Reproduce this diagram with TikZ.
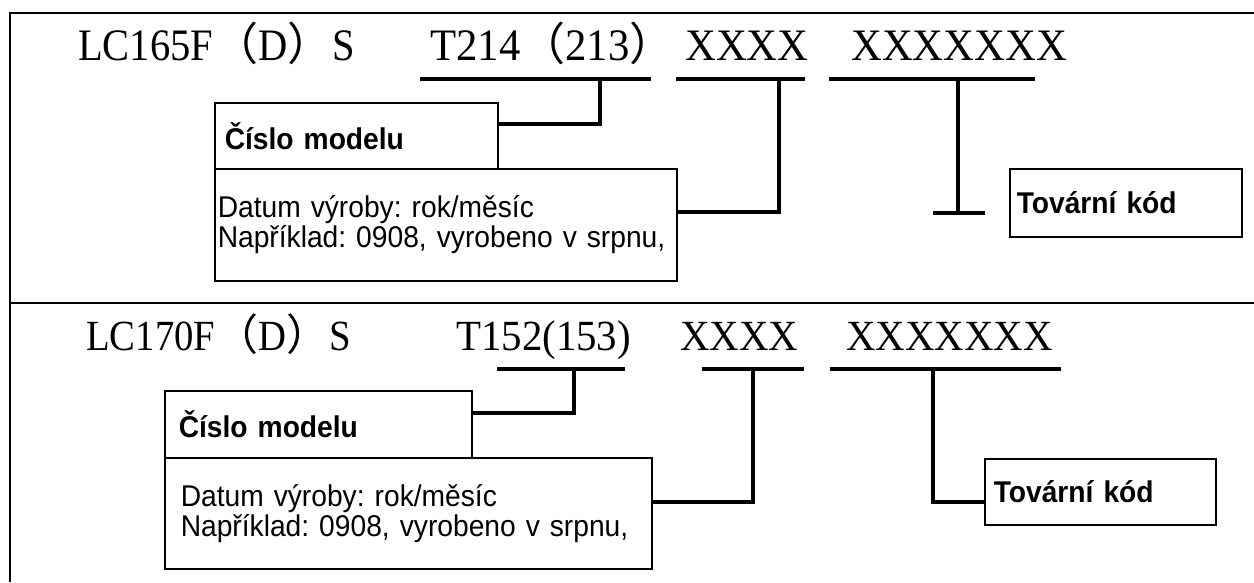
\documentclass[tikz,border=0pt]{standalone}
\usepackage{fontspec}
\setmainfont[FakeStretch=0.94]{Liberation Sans}
\newfontfamily\titlefont[FakeStretch=0.9]{Liberation Serif}
\newfontfamily\xfont[FakeStretch=0.95]{Liberation Serif}
\newfontfamily\cjk{Noto Sans CJK SC}
\newcommand{\fwlp}{{\cjk （}}
\newcommand{\fwrp}{{\cjk ）}}
\frenchspacing

\begin{document}
\begin{tikzpicture}[x=1pt,y=-1pt,
	frame/.style={line width=2pt},
	uline/.style={line width=4.5pt},
	conn/.style={line width=3.5pt},
	code/.style={anchor=base west,inner sep=0pt,font=\fontsize{45}{45}\selectfont},
	codelow/.style={code,font=\fontsize{43}{43}\selectfont},
	lbox/.style={draw,line width=1.5pt,anchor=north west,align=left,inner ysep=0pt},
	boldlbl/.style={font=\bfseries\fontsize{30}{30}\selectfont},
	plainlbl/.style={font=\fontsize{30}{30}\selectfont}]
	\useasboundingbox (0,0) rectangle (1254,582);
	\draw[frame] (1254,13) -- (10,13) -- (10,582);
	\draw[frame] (10,303) -- (1254,303);

	% upper panel
	\node[code] (name1) at (78,60) {\titlefont LC165F\fwlp D\fwrp S};
	\node[code] (type1) at (430,60) {\xfont T214\fwlp 213\fwrp};
	\node[code] (date1) at (685,60) {\xfont XXXX};
	\node[code] (serial1) at (851,60) {\xfont XXXXXXX};
	\draw[uline] (420,79) -- (651,79);
	\draw[uline] (676,79) -- (805,79);
	\draw[uline] (829,79) -- (1035,79);
	\node[lbox,boldlbl,minimum width=283pt,minimum height=66pt,inner xsep=10pt,text width=263pt] (model1) at (214,102) {Číslo modelu};
	\node[lbox,plainlbl,minimum width=462pt,minimum height=112pt,inner xsep=3pt,text width=456pt] (datum1) at (214,168) {Datum výroby: rok/měsíc\\Například: 0908, vyrobeno v srpnu,};
	\node[lbox,boldlbl,minimum width=232pt,minimum height=68pt,inner xsep=7pt,text width=218pt] (factory1) at (1009,168) {Tovární kód};
	\coordinate (m1) at (600,79);
	\coordinate (d1) at (779,79);
	\coordinate (s1) at (958,79);
	\coordinate (s1end) at (958,213);
	\draw[conn] (m1) |- ([yshift=-22pt]model1.north east);
	\draw[conn] (d1) |- ([yshift=-44pt]datum1.north east);
	\draw[conn] (s1) -- (s1end);
	\draw[conn] ([xshift=-25pt]s1end) -- ([xshift=27pt]s1end);

	% lower panel
	\node[codelow] (name2) at (86,350) {\titlefont LC170F\fwlp D\fwrp S};
	\node[codelow] (type2) at (456,350) {\xfont T152(153)};
	\node[codelow] (date2) at (680,350) {\xfont XXXX};
	\node[codelow] (serial2) at (846,350) {\xfont XXXXXXX};
	\draw[uline] (497,369) -- (625,369);
	\draw[uline] (702,369) -- (804,369);
	\draw[uline] (830,369) -- (1061,369);
	\node[lbox,boldlbl,minimum width=307pt,minimum height=67pt,inner xsep=14pt,text width=279pt] (model2) at (164,390) {Číslo modelu};
	\node[lbox,plainlbl,minimum width=487pt,minimum height=111pt,inner xsep=16pt,text width=455pt] (datum2) at (164,457) {Datum výroby: rok/měsíc\\Například: 0908, vyrobeno v srpnu,};
	\node[lbox,boldlbl,minimum width=231pt,minimum height=66pt,inner xsep=9pt,text width=213pt] (factory2) at (984,458) {Tovární kód};
	\coordinate (m2) at (574,369);
	\coordinate (d2) at (753,369);
	\coordinate (s2) at (933,369);
	\draw[conn] (m2) |- ([yshift=-23pt]model2.north east);
	\draw[conn] (d2) |- ([yshift=-45pt]datum2.north east);
	\draw[conn] (s2) |- ([yshift=-44pt]factory2.north west);
\end{tikzpicture}
\end{document}
